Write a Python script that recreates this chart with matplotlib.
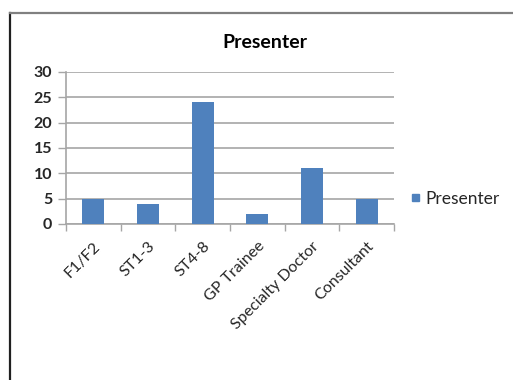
import matplotlib
matplotlib.use('Agg')
import matplotlib.pyplot as plt
from matplotlib.lines import Line2D
from matplotlib.patches import Rectangle

# presenter counts by grade
grades = ['F1/F2', 'ST1-3', 'ST4-8', 'GP Trainee', 'Specialty Doctor', 'Consultant']
presenter = [5, 4, 24, 2, 11, 5]
y_ticks = [0, 5, 10, 15, 20, 25, 30]

plt.rcParams['font.family'] = ['Lato', 'DejaVu Sans']
txt_color = '#262626'
grid_color = '#a6a6a6'
bar_color = '#4f81bd'

fig = plt.figure(figsize=(5.13, 3.80), dpi=100)
W, H = 513, 380
ax = fig.add_axes([66 / W, 1 - 224 / H, (394 - 66) / W, (224 - 72) / H])

x = list(range(len(grades)))
ax.bar(x, presenter, width=0.4, color=bar_color, zorder=3)

ax.set_xlim(-0.5, len(grades) - 0.5)
ax.set_ylim(0, 30)
ax.set_yticks(y_ticks)
ax.set_yticklabels([str(v) for v in y_ticks], fontsize=11.5, fontweight='bold', color=txt_color)
ax.set_xticks([i - 0.5 for i in range(len(grades) + 1)])
ax.set_xticklabels([])
ax.set_xticks(x, minor=True)
ax.set_xticklabels(grades, minor=True, rotation=45, ha='right', va='top',
                   rotation_mode='anchor', fontsize=11.5, color=txt_color)
ax.tick_params(axis='x', which='minor', length=0, pad=11)
ax.tick_params(axis='x', which='major', length=5, width=1, color=grid_color, direction='out')
ax.tick_params(axis='y', length=6, width=1, color=grid_color, direction='out', pad=4)

ax.grid(axis='y', color=grid_color, linewidth=1.2, zorder=0)
for side in ['top', 'right']:
    ax.spines[side].set_visible(False)
for side in ['left', 'bottom']:
    ax.spines[side].set_color(grid_color)
    ax.spines[side].set_linewidth(1.2)

fig.text(265 / W, 1 - 43 / H, 'Presenter', ha='center', va='center',
         fontsize=14, fontweight='bold', color='black')

# legend entry
fig.patches.append(Rectangle((412 / W, 1 - 201 / H), 7 / W, 7 / H,
                             transform=fig.transFigure, color=bar_color))
fig.text(425 / W, 1 - 199 / H, 'Presenter', ha='left', va='center',
         fontsize=12.5, color=txt_color)

# outer frame
fig.lines.append(Line2D([10 / W, 10 / W], [0, 1 - 13 / H], transform=fig.transFigure,
                        color='#202020', linewidth=1.6))
fig.lines.append(Line2D([10 / W, 1], [1 - 13 / H, 1 - 13 / H], transform=fig.transFigure,
                        color='#808080', linewidth=1.6))

fig.savefig('out.png', dpi=100)
